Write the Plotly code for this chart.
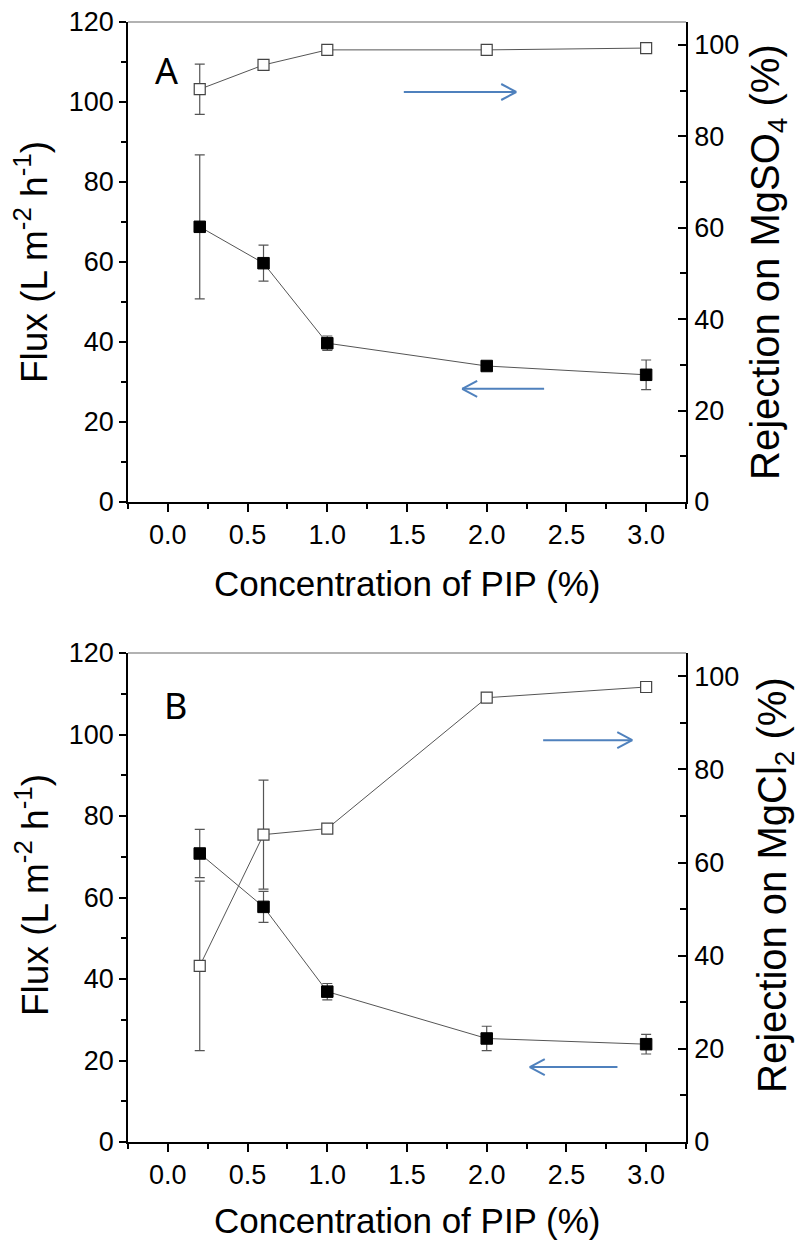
import plotly.graph_objects as go

# ---------------- data ----------------
pip_conc = [0.2, 0.6, 1.0, 2.0, 3.0]

flux_A = [68.8, 59.7, 39.7, 34.0, 31.8]
flux_A_err = [18.0, 4.5, 1.8, 0.8, 3.7]
rej_A = [90.3, 95.6, 98.9, 98.9, 99.3]
rej_A_err = [5.5, 1.0, 0.4, 0.4, 0.5]

flux_B = [70.8, 57.7, 36.9, 25.4, 24.0]
flux_B_err = [5.9, 3.8, 2.0, 3.0, 2.4]
rej_B = [37.8, 66.0, 67.3, 95.4, 97.7]
rej_B_err = [18.2, 11.7, 0.8, 1.0, 0.5]

x_ticks = [0.0, 0.5, 1.0, 1.5, 2.0, 2.5, 3.0]
flux_ticks = [0, 20, 40, 60, 80, 100, 120]
rej_ticks = [0, 20, 40, 60, 80, 100]

# arrows: (head_x, tail_x, y on flux axis, direction +1 right / -1 left)
arrows_A = [(2.185, 1.48, 102.5, 1), (1.846, 2.36, 28.3, -1)]
arrows_B = [(2.913, 2.354, 98.6, 1), (2.27, 2.82, 18.4, -1)]

FONT = "Liberation Sans"
LINE_C = "#555555"
ERR_C = "#555555"
ARROW_C = "#4F81BD"

# the html page places the figure 8 px from the top-left corner (body margin)
OFF = 8
W, H = 806 - OFF, 1245 - OFF


def fx(px):
    return (px - OFF) / W


def fy(py):
    return 1 - (py - OFF) / H


fig = go.Figure()


def add_pair(flux, ferr, rej, rerr, xa, ya_l, ya_r):
    fig.add_trace(go.Scatter(
        x=pip_conc, y=flux, xaxis=xa, yaxis=ya_l, mode="lines+markers",
        line=dict(color=LINE_C, width=1),
        marker=dict(symbol="square", size=11.5, color="black", line=dict(color="black", width=1)),
        error_y=dict(type="data", array=ferr, color=ERR_C, thickness=1.2, width=5),
        showlegend=False))
    fig.add_trace(go.Scatter(
        x=pip_conc, y=rej, xaxis=xa, yaxis=ya_r, mode="lines+markers",
        line=dict(color=LINE_C, width=1),
        marker=dict(symbol="square", size=11, color="white", line=dict(color="#444444", width=1.2)),
        error_y=dict(type="data", array=rerr, color=ERR_C, thickness=1.2, width=5),
        showlegend=False))


add_pair(flux_A, flux_A_err, rej_A, rej_A_err, "x", "y", "y2")
add_pair(flux_B, flux_B_err, rej_B, rej_B_err, "x2", "y3", "y4")

xdom = [fx(128), fx(686)]
domA = [fy(502), fy(22)]
domB = [fy(1142), fy(653)]

tickfont = dict(family=FONT, size=27, color="black")

xcommon = dict(range=[-0.25, 3.25], tickvals=x_ticks, ticktext=[f"{v:.1f}" for v in x_ticks],
               ticks="outside", ticklen=8, tickwidth=1.5, tickcolor="black",
               minor=dict(ticks="outside", ticklen=5, dtick=0.25, tickcolor="black", tickwidth=1.5),
               showline=True, linecolor="black", linewidth=1.5, showgrid=False, zeroline=False,
               tickfont=tickfont, domain=xdom, automargin=False, ticklabeloverflow="allow")
ylcommon = dict(range=[0, 120], tickvals=flux_ticks, ticks="outside", ticklen=7, tickwidth=1.5,
                tickcolor="black",
                minor=dict(ticks="outside", ticklen=5, dtick=10, tickcolor="black", tickwidth=1.5),
                showline=True, linecolor="black", linewidth=1.5, showgrid=False, zeroline=False,
                tickfont=tickfont, automargin=False, ticklabeloverflow="allow")
yrcommon = dict(range=[0, 105], tickvals=rej_ticks, ticks="inside", ticklen=8, tickwidth=1.5,
                tickcolor="black", side="right",
                minor=dict(ticks="inside", ticklen=6, dtick=10, tickcolor="black", tickwidth=1.5),
                showline=True, linecolor="black", linewidth=1.5, showgrid=False, zeroline=False,
                tickfont=tickfont, ticklabelstandoff=1, automargin=False,
                ticklabeloverflow="allow")

fig.update_layout(
    width=W, height=H,
    margin=dict(l=0, r=0, t=0, b=0, autoexpand=False),
    paper_bgcolor="white", plot_bgcolor="white",
    font=dict(family=FONT, color="black"),
    xaxis=dict(anchor="y", **xcommon),
    yaxis=dict(anchor="x", domain=domA, **ylcommon),
    yaxis2=dict(anchor="x", overlaying="y", **yrcommon),
    xaxis2=dict(anchor="y3", **xcommon),
    yaxis3=dict(anchor="x2", domain=domB, **ylcommon),
    yaxis4=dict(anchor="x2", overlaying="y3", **yrcommon),
)

# top borders
for xr, yr in [("x domain", "y domain"), ("x2 domain", "y3 domain")]:
    fig.add_shape(type="line", xref=xr, yref=yr, x0=0, x1=1, y0=1, y1=1,
                  line=dict(color="#666666", width=1.2))

# arrows: shaft in data coords, chevron head in pixel offsets from the head point
arrow_line = dict(color=ARROW_C, width=2)
for arrows, xr, yr in [(arrows_A, "x", "y"), (arrows_B, "x2", "y3")]:
    for hx, tx, yy, d in arrows:
        fig.add_shape(type="line", xref=xr, yref=yr, x0=tx, x1=hx, y0=yy, y1=yy, line=arrow_line)
        for s in (1, -1):
            fig.add_shape(type="line", xref=xr, yref=yr, xsizemode="pixel", ysizemode="pixel",
                          xanchor=hx, yanchor=yy, x0=0, y0=0, x1=-d * 15, y1=s * 8,
                          line=arrow_line)

# panel letters
for px, py, letter in [(166, 71, "A"), (175, 705, "B")]:
    fig.add_annotation(x=fx(px), y=fy(py), xref="paper", yref="paper", text=letter,
                       xanchor="center", yanchor="middle", showarrow=False,
                       font=dict(family="Noto Sans", size=36, color="black"))

# axis titles
titles = [
    (32, 262, "Flux (L m<sup>-2</sup> h<sup>-1</sup>)", -90, 37),
    (32, 895, "Flux (L m<sup>-2</sup> h<sup>-1</sup>)", -90, 37),
    (768, 262, "Rejection on MgSO<sub>4</sub> (%)", -90, 40),
    (775, 885, "Rejection on MgCl<sub>2</sub> (%)", -90, 40),
    (407, 583, "Concentration of PIP (%)", 0, 35),
    (407, 1220, "Concentration of PIP (%)", 0, 35),
]
for px, py, txt, ang, sz in titles:
    fig.add_annotation(x=fx(px), y=fy(py), xref="paper", yref="paper", text=txt,
                       textangle=ang, showarrow=False, xanchor="center", yanchor="middle",
                       font=dict(family=FONT, size=sz, color="black"))

fig.write_html("out.html")
